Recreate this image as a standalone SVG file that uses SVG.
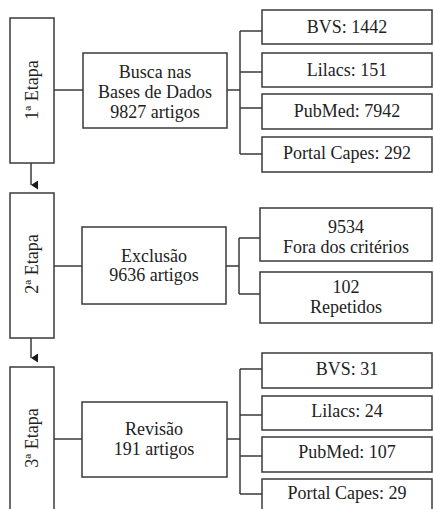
<svg xmlns="http://www.w3.org/2000/svg" width="434" height="509" viewBox="0 0 434 509">
<style>
.b{fill:#fff;stroke:#3a3a3a;stroke-width:1.5}
.c{fill:none;stroke:#3a3a3a;stroke-width:1.5}
.t text{font-size:18px;fill:#222;text-anchor:middle}
</style>
<defs>
<marker id="ar" markerWidth="9" markerHeight="9" refX="4.5" refY="8" orient="auto" markerUnits="userSpaceOnUse" viewBox="0 0 9 9">
<path d="M0,1 L9,1 L4.5,8 Z" fill="#1a1a1a"/>
</marker>
</defs>
<rect width="434" height="509" fill="#fff"/>
<g id="connectors">
<path class="c" d="M31,163 V185" marker-end="url(#ar)"/>
<path class="c" d="M31,338 V358" marker-end="url(#ar)"/>
<path class="c" d="M54,90 H83"/>
<path class="c" d="M227,90 H240 M240,31 V154 M240,31 H262 M240,72 H262 M240,108 H262 M240,154 H262"/>
<path class="c" d="M54,266 H82"/>
<path class="c" d="M226,266 H239 M239,238 V294 M239,238 H260 M239,294 H260"/>
<path class="c" d="M54,439 H82"/>
<path class="c" d="M227,439 H240 M240,369 V494 M240,369 H262 M240,415 H262 M240,456 H262 M240,494 H262"/>
</g>
<g class="t" font-family="Liberation Serif, Times New Roman, serif">
<g id="etapa1"><rect class="b" x="10" y="18" width="44" height="145"/><text transform="translate(38,90) rotate(-90)">1ª Etapa</text></g>
<g id="etapa2"><rect class="b" x="10" y="193" width="44" height="145"/><text transform="translate(38,264) rotate(-90)">2ª Etapa</text></g>
<g id="etapa3"><rect class="b" x="10" y="367" width="44" height="150"/><text transform="translate(38,438) rotate(-90)">3ª Etapa</text></g>
<g id="busca"><rect class="b" x="83" y="53" width="144" height="75"/><text x="155" y="78">Busca nas</text><text x="155" y="98">Bases de Dados</text><text x="155" y="118">9827 artigos</text></g>
<g id="bvs1"><rect class="b" x="262" y="10" width="170" height="34"/><text x="347" y="33">BVS: 1442</text></g>
<g id="lilacs1"><rect class="b" x="262" y="53" width="170" height="34"/><text x="347" y="76">Lilacs: 151</text></g>
<g id="pubmed1"><rect class="b" x="262" y="94" width="170" height="35"/><text x="347" y="117">PubMed: 7942</text></g>
<g id="capes1"><rect class="b" x="262" y="137" width="170" height="35"/><text x="347" y="159">Portal Capes: 292</text></g>
<g id="exclusao"><rect class="b" x="82" y="227" width="144" height="77"/><text x="154" y="262">Exclusão</text><text x="154" y="281">9636 artigos</text></g>
<g id="fora"><rect class="b" x="260" y="208" width="172" height="53"/><text x="346" y="233">9534</text><text x="346" y="253">Fora dos critérios</text></g>
<g id="repetidos"><rect class="b" x="260" y="272" width="172" height="51"/><text x="346" y="293">102</text><text x="346" y="313">Repetidos</text></g>
<g id="revisao"><rect class="b" x="82" y="402" width="145" height="75"/><text x="154" y="435">Revisão</text><text x="154" y="455">191 artigos</text></g>
<g id="bvs3"><rect class="b" x="262" y="353" width="170" height="35"/><text x="347" y="375">BVS: 31</text></g>
<g id="lilacs3"><rect class="b" x="262" y="396" width="170" height="34"/><text x="347" y="417">Lilacs: 24</text></g>
<g id="pubmed3"><rect class="b" x="262" y="437" width="170" height="35"/><text x="347" y="458">PubMed: 107</text></g>
<g id="capes3"><rect class="b" x="262" y="479" width="170" height="40"/><text x="347" y="499">Portal Capes: 29</text></g>
</g>
</svg>
